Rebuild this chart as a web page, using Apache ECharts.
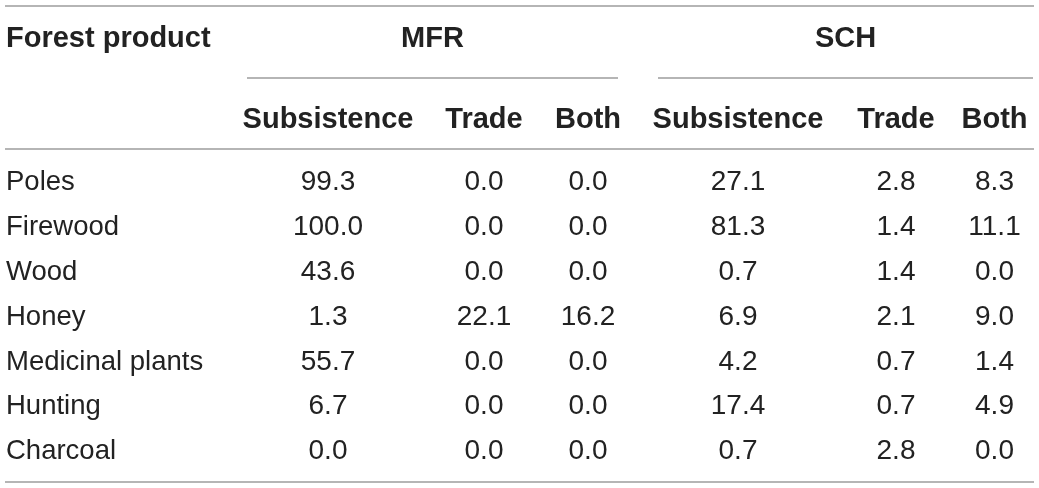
<!DOCTYPE html>
<html>
<head>
<meta charset="utf-8">
<script src="https://cdn.jsdelivr.net/npm/echarts@6/dist/echarts.min.js"></script>
<style>
  html, body { margin: 0; padding: 0; background: #fff; }
  #table-chart { width: 1039px; height: 488px; }
</style>
</head>
<body>
<div id="table-chart"></div>
<script>
// table data
var products = ['Poles', 'Firewood', 'Wood', 'Honey', 'Medicinal plants', 'Hunting', 'Charcoal']
var columns = ['Subsistence', 'Trade', 'Both', 'Subsistence', 'Trade', 'Both']
var groups = ['MFR', 'SCH']
var mfrSubsistence = [99.3, 100.0, 43.6, 1.3, 55.7, 6.7, 0.0]
var mfrTrade = [0.0, 0.0, 0.0, 22.1, 0.0, 0.0, 0.0]
var mfrBoth = [0.0, 0.0, 0.0, 16.2, 0.0, 0.0, 0.0]
var schSubsistence = [27.1, 81.3, 0.7, 6.9, 4.2, 17.4, 0.7]
var schTrade = [2.8, 1.4, 1.4, 2.1, 0.7, 0.7, 2.8]
var schBoth = [8.3, 11.1, 0.0, 9.0, 1.4, 4.9, 0.0]

var values = [mfrSubsistence, mfrTrade, mfrBoth, schSubsistence, schTrade, schBoth]

// layout
var colCenters = [328, 484, 588, 738, 896, 1000]
var colWidth = 100
var gridTop = 160.2
var gridBottom = 14
var textColor = '#222'
var ruleColor = '#9c9c9c'
var fontFamily = '"Liberation Sans", Arial, Helvetica, sans-serif'

var myChart = echarts.init(document.getElementById('table-chart'))

var option = {
    backgroundColor: '#fff',
    animation: false,
    grid: [],
    xAxis: [],
    yAxis: [],
    series: [],
    graphic: []
}

for (var c = 0; c < columns.length; c++){
    option.grid.push({
        left: colCenters[c] - colWidth / 2,
        width: colWidth,
        top: gridTop,
        bottom: gridBottom,
        containLabel: false
    })
    option.xAxis.push({
        type: 'category',
        gridIndex: c,
        position: 'top',
        data: [columns[c]],
        axisLine: { show: false },
        axisTick: { show: false },
        splitLine: { show: false },
        axisLabel: {
            margin: 40,
            verticalAlign: 'middle',
            color: textColor,
            fontFamily: fontFamily,
            fontWeight: 'bold',
            fontSize: 29
        }
    })
    option.yAxis.push({
        type: 'category',
        gridIndex: c,
        inverse: true,
        data: products,
        axisLine: { show: false },
        axisTick: { show: false },
        splitLine: { show: false },
        axisLabel: {
            show: c == 0,
            align: 'left',
            margin: colCenters[0] - colWidth / 2 - 6,
            color: textColor,
            fontFamily: fontFamily,
            fontSize: 27.5
        }
    })

    var data = []
    for (var r = 0; r < products.length; r++){
        data.push([columns[c], products[r], values[c][r]])
    }
    option.series.push({
        type: 'scatter',
        xAxisIndex: c,
        yAxisIndex: c,
        symbolSize: 1,
        itemStyle: { color: 'rgba(0,0,0,0)' },
        label: {
            show: true,
            position: 'inside',
            color: textColor,
            opacity: 1,
            fontFamily: fontFamily,
            fontSize: 28,
            formatter: function(p){ return p.value[2].toFixed(1) }
        },
        data: data
    })
}

// header texts
option.graphic.push({
    type: 'text', x: 6, y: 39,
    style: { text: 'Forest product', fill: textColor, font: 'bold 29px ' + fontFamily,
             verticalAlign: 'middle' }
})
var groupSpans = [[247, 618], [658, 1033]]
for (var g = 0; g < groups.length; g++){
    var mid = (groupSpans[g][0] + groupSpans[g][1]) / 2
    option.graphic.push({
        type: 'text', x: mid, y: 39,
        style: { text: groups[g], fill: textColor, font: 'bold 29px ' + fontFamily,
                 align: 'center', verticalAlign: 'middle' }
    })
    option.graphic.push({
        type: 'line',
        shape: { x1: groupSpans[g][0], y1: 78, x2: groupSpans[g][1], y2: 78 },
        style: { stroke: ruleColor, lineWidth: 1.5 }
    })
}

// horizontal rules
var rules = [6, 149, 482]
for (var k = 0; k < rules.length; k++){
    option.graphic.push({
        type: 'line',
        shape: { x1: 5, y1: rules[k], x2: 1034, y2: rules[k] },
        style: { stroke: ruleColor, lineWidth: 1.5 }
    })
}

myChart.setOption(option)
</script>
</body>
</html>
